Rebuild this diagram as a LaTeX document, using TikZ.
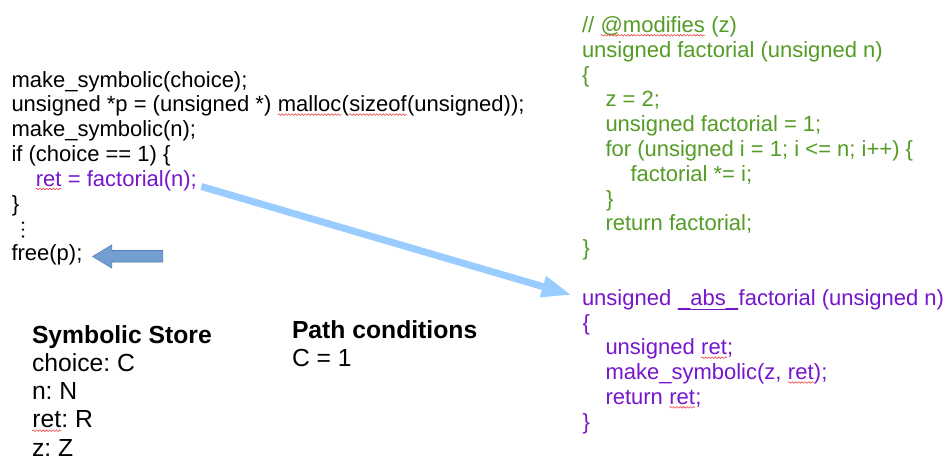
\documentclass[tikz,border=0pt]{standalone}
\usepackage{fontspec}
\setmainfont{Liberation Sans}
\usetikzlibrary{arrows.meta,calc,decorations.pathmorphing}
\frenchspacing

\definecolor{codegreen}{RGB}{84,156,38}
\definecolor{codepurple}{RGB}{118,22,205}
\definecolor{callblue}{RGB}{153,204,255}
\definecolor{blockfill}{RGB}{114,159,207}
\definecolor{blockedge}{RGB}{82,128,184}
\definecolor{spellred}{RGB}{240,70,70}

\tikzset{
  txt/.style={anchor=base west, inner sep=0pt, outer sep=0pt,
              font=\fontsize{22}{24.8}\selectfont},
  plain/.style={txt, text=black},
  grn/.style={txt, text=codegreen},
  prp/.style={txt, text=codepurple},
  store/.style={anchor=base west, inner sep=0pt, outer sep=0pt,
                font=\fontsize{24.7}{28.3}\selectfont, text=black},
  storehead/.style={store, font=\fontsize{24.7}{28.3}\selectfont\bfseries},
  spell/.style={draw=spellred, line width=0.6pt, decorate,
                decoration={snake, amplitude=0.8pt, segment length=3.3pt}},
  callarrow/.style={draw=callblue, line width=7pt,
                    -{Triangle[length=30pt,width=20pt]}},
  blockarrow/.style={fill=blockfill, draw=blockedge, line width=0.6pt},
}

% word with a red wavy underline
\newcommand\spellword[1]{\tikz[baseline=0pt]{%
  \node[inner sep=0pt,outer sep=0pt,anchor=base west] (sw) at (0pt,0pt) {#1};%
  \draw[spell] ([yshift=-2.8pt]sw.base west) -- ([yshift=-2.8pt]sw.base east);}}

% word with a solid underline
\newcommand\underword[1]{\tikz[baseline=0pt]{%
  \node[inner sep=0pt,outer sep=0pt,anchor=base west] (uw) at (0pt,0pt) {#1};%
  \draw[draw=codepurple,line width=1.3pt] ([yshift=-3.9pt]uw.base west) -- ([yshift=-3.9pt]uw.base east);}}

\begin{document}
\begin{tikzpicture}[x=1pt,y=-1pt]
  \fill[white] (0,0) rectangle (949,455);
  \useasboundingbox (0,0) rectangle (949,455);

  % caller
  \node[plain] (l1) at (11.5,87)    {make\_symbolic(choice);};
  \node[plain] (l2) at (11.5,111.8) {unsigned *p = (unsigned *) \spellword{malloc}(\spellword{sizeof}(unsigned));};
  \node[plain] (l3) at (11.5,136.6) {make\_symbolic(n);};
  \node[plain] (l4) at (11.5,161.4) {if (choice == 1) \{};
  \node[prp]   (l5) at (35.5,186.2) {\spellword{ret} = factorial(n);};
  \node[plain] (l6) at (12,211)     {\}};
  \foreach \yy in {222.7,229.6,236.5} \fill[black] (23,\yy) circle (1.3);
  \node[plain] (l7) at (11.5,260.6) {free(p);};

  % current statement marker
  \draw[blockarrow] (92.7,256.5) -- (111.7,245) -- (111.7,250.5) -- (162.7,250.5)
        -- (162.7,262) -- (111.7,262) -- (111.7,268) -- cycle;

  % original function
  \node[grn] (r1)  at (582,32.5)  {// \spellword{@modifies} (z)};
  \node[grn] (r2)  at (582,57.3)  {unsigned factorial (unsigned n)};
  \node[grn] (r3)  at (582,82.1)  {\{};
  \node[grn] (r4)  at (605.5,106.9) {z = 2;};
  \node[grn] (r5)  at (605.5,131.7) {unsigned factorial = 1;};
  \node[grn] (r6)  at (605.5,156.5) {for (unsigned i = 1; i <= n; i++) \{};
  \node[grn] (r7)  at (630.5,181.3) {factorial *= i;};
  \node[grn] (r8)  at (606,206.1)   {\}};
  \node[grn] (r9)  at (605.5,230.9) {return factorial;};
  \node[grn] (r10) at (582.5,255.7) {\}};

  % abstracted function
  \node[prp] (a1) at (582,305.3)   {unsigned \underword{\_abs\_}factorial (unsigned n)};
  \node[prp] (a2) at (582.5,330.1) {\{};
  \node[prp] (a3) at (605.5,354.9) {unsigned \spellword{ret};};
  \node[prp] (a4) at (605.5,379.7) {make\_symbolic(z, \spellword{ret});};
  \node[prp] (a5) at (605.5,404.5) {return \spellword{ret};};
  \node[prp] (a6) at (582.5,429.3) {\}};

  % call redirected to the abstraction
  \draw[callarrow] ($(l5.east)+(4.5,6)$) -- ($(a1.west)+(-10.3,-4.6)$);

  % symbolic store
  \node[storehead] (s0) at (32,343)   {Symbolic Store};
  \node[store]     (s1) at (32,371.3) {choice: C};
  \node[store]     (s2) at (32,399.6) {n: N};
  \node[store]     (s3) at (32,427.9) {\spellword{ret}: R};
  \node[store]     (s4) at (32,456.2) {z: Z};

  % path conditions
  \node[storehead] (p0) at (292,338.3) {Path conditions};
  \node[store]     (p1) at (292,366.7) {C = 1};
\end{tikzpicture}
\end{document}
